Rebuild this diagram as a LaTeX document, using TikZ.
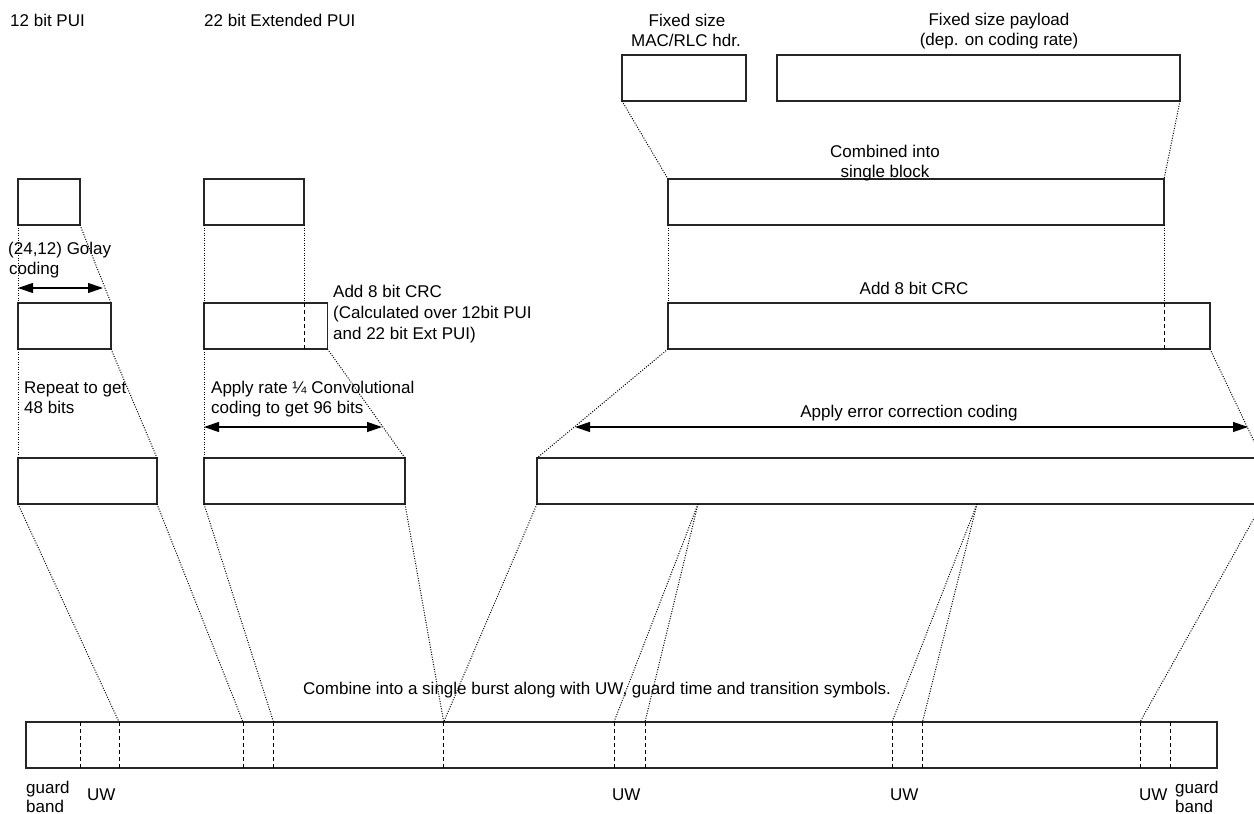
\documentclass[tikz,border=0pt]{standalone}
\usepackage{fontspec}
\setmainfont{Liberation Sans}
\usetikzlibrary{arrows.meta,calc}
\begin{document}
\begin{tikzpicture}[x=1pt,y=-1pt,
  box/.style={draw=black!85, line width=1.2pt, inner sep=0pt, outer sep=0pt, anchor=north west, minimum height=46pt},
  dotl/.style={line width=1pt, dash pattern=on 1pt off 1.5pt},
  dashl/.style={line width=1pt, dash pattern=on 4pt off 3pt},
  lbl/.style={inner sep=0pt, font=\fontsize{17}{20}\selectfont},
  dimarrow/.style={line width=1.2pt, {Triangle[length=15pt,width=10pt]}-{Triangle[length=15pt,width=10pt]}}]
\clip (0,0) rectangle (1254,814);
\fill[white] (0,0) rectangle (1254,814);

% boxes
\node[box, minimum width=62pt]  (pui)   at (18,179) {};
\node[box, minimum width=93pt]  (golay) at (18,303) {};
\node[box, minimum width=139pt] (rep)   at (18,458) {};
\node[box, minimum width=100pt] (ext)   at (204,179) {};
\node[box, minimum width=123.5pt] (crca) at (204,303) {};
\node[box, minimum width=201pt] (conv)  at (204,458) {};
\node[box, minimum width=124pt] (mac)   at (622,55) {};
\node[box, minimum width=403pt] (pay)   at (777,55) {};
\node[box, minimum width=496pt] (comb)  at (668,179) {};
\node[box, minimum width=542pt] (crcb)  at (668,303) {};
\node[box, minimum width=725pt] (ecc)   at (537,458) {};
\node[box, minimum width=1191pt] (burst) at (26,722) {};

% inner dashed dividers
\coordinate (cad) at (304,303); \coordinate (cae) at (304,349);
\coordinate (cbd) at (1164,303); \coordinate (cbe) at (1164,349);
\draw[dashl] (cad) -- (cae);
\draw[dashl] (cbd) -- (cbe);

% burst dividers
\foreach \i/\x in {1/80,2/119,3/243,4/273.5,5/443.7,6/614,7/645,8/892,9/922.5,10/1140,11/1170}{
  \coordinate (bt\i) at (\x,722);
  \coordinate (bb\i) at (\x,768);
  \draw[dashl] (bt\i) -- (bb\i);
}

% ECC output tap points
\coordinate (ea) at (698,504);
\coordinate (eb) at (977,504);

% dotted connectors
\draw[dotl] (pui.south west) -- (golay.north west);
\draw[dotl] (pui.south east) -- (golay.north east);
\draw[dotl] (golay.south west) -- (rep.north west);
\draw[dotl] (golay.south east) -- (rep.north east);
\draw[dotl] (ext.south west) -- (crca.north west);
\draw[dotl] (ext.south east) -- (cad);
\draw[dotl] (crca.south west) -- (conv.north west);
\draw[dotl] (crca.south east) -- (conv.north east);
\draw[dotl] (mac.south west) -- (comb.north west);
\draw[dotl] (pay.south east) -- (comb.north east);
\draw[dotl] (comb.south west) -- (crcb.north west);
\draw[dotl] (comb.south east) -- (cbd);
\draw[dotl] (crcb.south west) -- (ecc.north west);
\draw[dotl] (crcb.south east) -- (ecc.north east);
\draw[dotl] (rep.south west) -- (bt2);
\draw[dotl] (rep.south east) -- (bt3);
\draw[dotl] (conv.south west) -- (bt4);
\draw[dotl] (conv.south east) -- (bt5);
\draw[dotl] (ecc.south west) -- (bt5);
\draw[dotl] (ea) -- (bt6);
\draw[dotl] (ea) -- (bt7);
\draw[dotl] (eb) -- (bt8);
\draw[dotl] (eb) -- (bt9);
\draw[dotl] (ecc.south east) -- (bt10);

% dimension arrows
\coordinate (gaa) at (18,288);  \coordinate (gab) at (103,288);
\coordinate (caa) at (204,427); \coordinate (cab) at (382,427);
\coordinate (eaa) at (575,427); \coordinate (eab) at (1248,427);
\draw[dimarrow] (gaa) -- (gab);
\draw[dimarrow] (caa) -- (cab);
\draw[dimarrow] (eaa) -- (eab);

% labels
\node[lbl, anchor=base west] (l1) at (10,26) {12 bit PUI};
\node[lbl, anchor=base west] (l2) at (204,26) {22 bit Extended PUI};
\node[lbl, anchor=base] (l3) at (687,26) {Fixed size};
\node[lbl, anchor=base] (l4) at (686,46) {MAC/RLC hdr.};
\node[lbl, anchor=base] (l5) at (999,25.5) {Fixed size payload};
\node[lbl, anchor=base] (l6) at (999,45.5) {(dep. on coding rate)};
\node[lbl, anchor=base] (l7) at (885,157) {Combined into};
\node[lbl, anchor=base] (l8) at (885,177.5) {single block};
\node[lbl, anchor=base west] (l9) at (8,254) {(24,12) Golay};
\node[lbl, anchor=base west] (l10) at (9,274) {coding};
\node[lbl, anchor=base west] (l11) at (333,297) {Add 8 bit CRC};
\node[lbl, anchor=base west] (l12) at (333,318) {(Calculated over 12bit PUI};
\node[lbl, anchor=base west] (l13) at (333,339) {and 22 bit Ext PUI)};
\node[lbl, anchor=base] (l14) at (914,294) {Add 8 bit CRC};
\node[lbl, anchor=base west] (l15) at (24,393) {Repeat to get};
\node[lbl, anchor=base west] (l16) at (24,413) {48 bits};
\node[lbl, anchor=base west] (l17) at (211,393) {Apply rate ¼ Convolutional};
\node[lbl, anchor=base west] (l18) at (211,413) {coding to get 96 bits};
\node[lbl, anchor=base] (l19) at (909,417) {Apply error correction coding};
\node[lbl, anchor=base west] (l20) at (303,694) {Combine into a single burst along with UW, guard time and transition symbols.};
\node[lbl, anchor=base west] (l21) at (26,793) {guard};
\node[lbl, anchor=base west] (l22) at (26,812) {band};
\node[lbl, anchor=base west] (l23) at (87,800) {UW};
\node[lbl, anchor=base west] (l24) at (612,800) {UW};
\node[lbl, anchor=base west] (l25) at (890,800) {UW};
\node[lbl, anchor=base west] (l26) at (1139,800) {UW};
\node[lbl, anchor=base west] (l27) at (1175,793) {guard};
\node[lbl, anchor=base west] (l28) at (1175,812) {band};
\end{tikzpicture}
\end{document}
